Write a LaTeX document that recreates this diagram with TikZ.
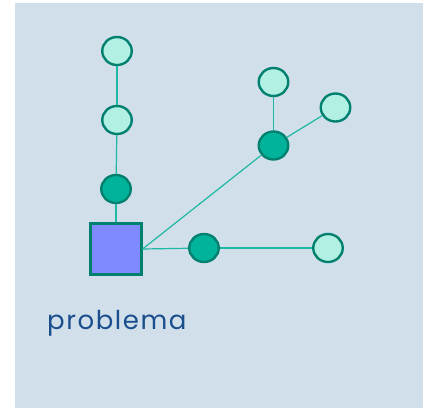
\documentclass[tikz,border=0pt]{standalone}
\usepackage{fontspec}
\newfontfamily\labelfont[LetterSpace=6]{Poppins}
\usetikzlibrary{shapes.geometric}
\definecolor{bgblue}{RGB}{209,223,235}
\definecolor{rim}{RGB}{0,128,110}
\definecolor{mint}{RGB}{178,240,227}
\definecolor{tealfill}{RGB}{0,179,154}
\definecolor{wirecol}{RGB}{30,185,163}
\definecolor{lilac}{RGB}{128,138,255}
\definecolor{inkblue}{RGB}{26,78,140}
\tikzset{
  leaf/.style={ellipse, draw=rim, fill=mint, line width=2.4pt, minimum width=29.5pt, minimum height=28pt, inner sep=0pt},
  knot/.style={leaf, fill=tealfill},
  root/.style={rectangle, draw=rim, fill=lilac, line width=2.6pt, minimum size=50.5pt, inner sep=0pt},
  wire/.style={draw=wirecol, line width=1.2pt}
}

\begin{document}
\begin{tikzpicture}[x=1pt,y=-1pt]
		%%%%% START %%%%%
		
		\useasboundingbox (0, 0) rectangle (423, 408);
		\fill[bgblue] (15, 3) rectangle (423, 408);
		
		\node[root] (sq) at (116, 249) {};
		\node[anchor=base west, text=inkblue, inner sep=0pt, font=\labelfont\fontsize{26}{30}\selectfont] (lbl) at (47, 329) {problema};
		
		\node[knot] (k1) at (116, 189) {};
		\node[leaf] (a1) at (117, 120) {};
		\node[leaf] (a2) at (117, 51) {};
		
		\node[knot] (k2) at (273.5, 145.5) {};
		\node[leaf] (b1) at (273.5, 82) {};
		\node[leaf] (b2) at (335.5, 107.5) {};
		
		\node[knot] (k3) at (204, 248) {};
		\node[leaf] (c1) at (328, 248) {};
		
		\draw[wire] (sq) -- (k1);
		\draw[wire] (k1) -- (a1);
		\draw[wire] (a1) -- (a2);
		
		\draw[wire] (sq.east) -- (k2);
		\draw[wire] (k2) -- (b1);
		\draw[wire] (k2) -- (b2);
		
		\draw[wire] (sq.east) -- (k3);
		\draw[wire] (k3) -- (c1);
		
		%%%%% END %%%%%
\end{tikzpicture}
\end{document}
